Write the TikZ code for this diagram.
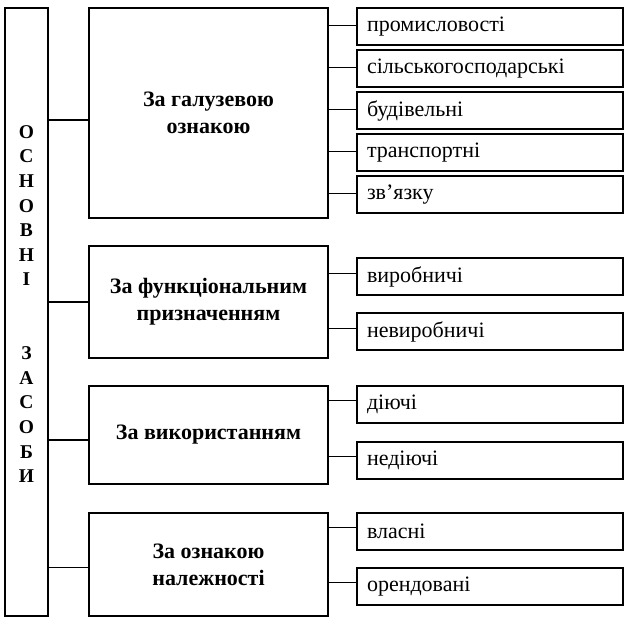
\documentclass[tikz,border=0pt]{standalone}
\usepackage{fontspec}
\setmainfont{Liberation Serif}
\begin{document}
\begin{tikzpicture}[x=1pt,y=-1pt,
  every node/.style={inner sep=0pt, outer sep=0pt},
  box/.style={draw, line width=1.8pt},
  midbox/.style={box, minimum width=239pt, anchor=north west, align=center,
    font=\bfseries\fontsize{22}{27}\selectfont},
  leaf/.style={box, minimum width=266pt, minimum height=37pt, anchor=north west,
    text width=246pt, inner xsep=10pt, align=left, font=\fontsize{22}{26}\selectfont},
  conn/.style={line width=1.8pt}]
\useasboundingbox (0,0) rectangle (629,627);
% left tall box
\node[box, minimum width=43pt, minimum height=608pt, anchor=north west,
  label={[align=center, yshift=8pt, font=\bfseries\fontsize{19.5}{24.6}\selectfont]center:{О\\С\\Н\\О\\В\\Н\\І\\[49.2pt]З\\А\\С\\О\\Б\\И}}]
  (L) at (5,8) {};
% middle boxes
\node[midbox, minimum height=210pt] (M1) at (89,8) {За галузевою\\ознакою};
\node[midbox, minimum height=112pt] (M2) at (89,246) {За функціональним\\призначенням};
\node[midbox, minimum height=98pt] (M3) at (89,386) {За використанням};
\node[midbox, minimum height=103pt] (M4) at (89,513) {За ознакою\\належності};
% leaves
\node[leaf] (A1) at (357,8) {промисловості};
\node[leaf] (A2) at (357,50) {сільськогосподарські};
\node[leaf] (A3) at (357,92) {будівельні};
\node[leaf] (A4) at (357,134) {транспортні};
\node[leaf] (A5) at (357,176) {зв’язку};
\node[leaf] (B1) at (357,258) {виробничі};
\node[leaf] (B2) at (357,313) {невиробничі};
\node[leaf] (C1) at (357,386) {діючі};
\node[leaf] (C2) at (357,442) {недіючі};
\node[leaf] (D1) at (357,513) {власні};
\node[leaf] (D2) at (357,568) {орендовані};
% connectors left -> middle
\draw[conn] ([yshift=-7pt]M1.west) -- ([yshift=-7pt]M1.west -| L.east);
\draw[conn] (M2.west) -- (M2.west -| L.east);
\draw[conn] ([yshift=-5pt]M3.west) -- ([yshift=-5pt]M3.west -| L.east);
\draw[conn] ([yshift=-3pt]M4.west) -- ([yshift=-3pt]M4.west -| L.east);
% connectors middle -> leaves
\foreach \n in {A1,A2,A3,A4,A5}
  \draw[conn] ([yshift=1pt]\n.west) -- ([yshift=1pt]\n.west -| M1.east);
\foreach \n in {B1,B2}
  \draw[conn] ([yshift=3pt]\n.west) -- ([yshift=3pt]\n.west -| M2.east);
\foreach \n in {C1,C2}
  \draw[conn] ([yshift=4pt]\n.west) -- ([yshift=4pt]\n.west -| M3.east);
\foreach \n in {D1,D2}
  \draw[conn] ([yshift=4pt]\n.west) -- ([yshift=4pt]\n.west -| M4.east);
\end{tikzpicture}
\end{document}
